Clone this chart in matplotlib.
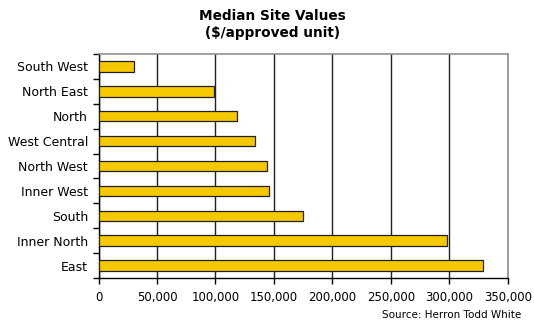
import numpy as np
import matplotlib.pyplot as plt
from matplotlib.ticker import FuncFormatter, FixedLocator

regions = ['East', 'Inner North', 'South', 'Inner West', 'North West',
           'West Central', 'North', 'North East', 'South West']
values = [329000, 298000, 175000, 145500, 144000, 134000, 118000, 99000, 30500]

plt.rcParams['font.family'] = ['Verdana', 'DejaVu Sans']

fig = plt.figure(figsize=(5.34, 3.22), dpi=100)
ax = fig.add_axes([0.1845, 0.1366, 0.7665, 0.6957])

y = np.arange(len(regions))
ax.barh(y, values, height=0.42, color='#F5C800', edgecolor='#202020',
        linewidth=0.9, zorder=3)

ax.set_xlim(0, 350000)
ax.set_ylim(-0.5, len(regions) - 0.5)
ax.set_xticks(np.arange(0, 350001, 50000))
ax.xaxis.set_major_formatter(FuncFormatter(lambda v, p: f'{int(v):,}'))
ax.grid(axis='x', color='#202020', linewidth=1.0, zorder=0)

# category labels centred on the bars, tick marks on the boundaries
ax.set_yticks(y)
ax.set_yticklabels(regions)
ax.tick_params(axis='y', which='major', length=0, pad=7.5, labelsize=9)
ax.yaxis.set_minor_locator(FixedLocator(np.arange(-0.5, len(regions), 1)))
ax.tick_params(axis='y', which='minor', length=4, width=1, color='black')
ax.tick_params(axis='x', length=4, width=1, labelsize=8.5, pad=5)

for side in ['top', 'right']:
    ax.spines[side].set_color('#909090')
    ax.spines[side].set_linewidth(1.2)
for side in ['left', 'bottom']:
    ax.spines[side].set_color('black')
    ax.spines[side].set_linewidth(1.0)

fig.text(0.51, 0.972, 'Median Site Values\n($/approved unit)', ha='center',
         va='top', fontsize=9.8, fontweight='bold', linespacing=1.3)
fig.text(0.977, 0.006, 'Source: Herron Todd White', ha='right', va='bottom',
         fontsize=7.5)

fig.savefig('out.png', dpi=100)
